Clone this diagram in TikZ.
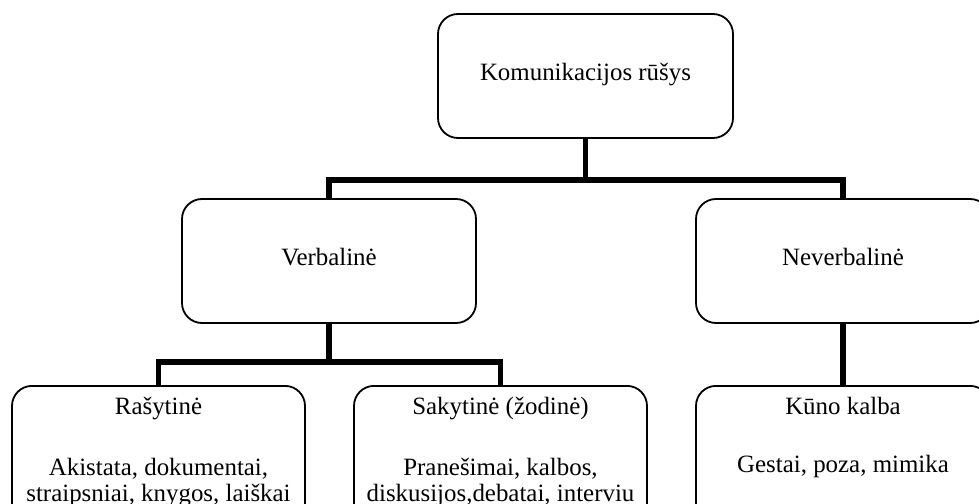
\documentclass[tikz,border=0pt]{standalone}
\usepackage{fontspec}
\setmainfont{Liberation Serif}
\begin{document}
\begin{tikzpicture}[x=1bp,y=-1bp,
  box/.style={draw, rounded corners=20bp, line width=1.8bp, inner sep=0pt,
    minimum width=294bp, minimum height=124bp, text height=16bp, text depth=6bp,
    font=\fontsize{25}{30}\selectfont},
  leaf/.style={draw, rounded corners=20bp, line width=1.8bp, inner xsep=0pt,
    inner ysep=11bp, minimum width=294bp, anchor=north,
    text height=18bp, text depth=100bp, font=\fontsize{25}{26}\selectfont},
  conn/.style={line width=5.5bp}]
\useasboundingbox (0,0) rectangle (979,504);
\clip (0,0) rectangle (979,504);

\node[box, minimum width=295bp] (top) at (585.5,76) {Komunikacijos rūšys};
\node[box] (verb) at (329,261) {Verbalinė};
\node[box] (never) at (843,261) {Neverbalinė};

\node[leaf, minimum width=293bp] (ras) at (158.5,385)
  {\begin{tabular}[t]{@{}c@{}}Rašytinė\\[35bp]Akistata, dokumentai,\\straipsniai, knygos, laiškai\end{tabular}};
\node[leaf, minimum width=293bp] (sak) at (500.5,385)
  {\begin{tabular}[t]{@{}c@{}}Sakytinė (žodinė)\\[35bp]Pranešimai, kalbos,\\diskusijos,debatai, interviu\end{tabular}};
\node[leaf] (kuno) at (843,385)
  {\begin{tabular}[t]{@{}c@{}}Kūno kalba\\[32bp]Gestai, poza, mimika\end{tabular}};

\coordinate (j1) at (585.5,180);
\coordinate (j2) at (329,362);
\draw[conn] (top.south) -- (j1);
\draw[conn] (verb.north) |- (j1) -| (never.north);
\draw[conn] (verb.south) -- (j2);
\draw[conn] (ras.north) |- (j2) -| (sak.north);
\draw[conn] (never.south) -- (kuno.north);
\end{tikzpicture}
\end{document}
